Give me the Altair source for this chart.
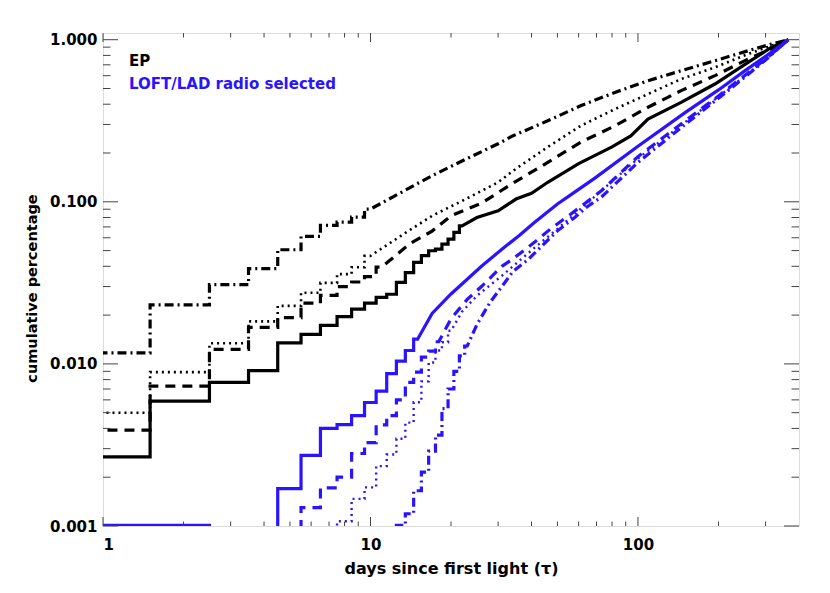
import altair as alt
import pandas as pd

# ---------------- data ----------------
# black curves (EP)
EP_SOLID_DAYS = list(range(1, 23)) + [25, 30, 35, 40, 46, 60, 80, 94, 109, 145, 194, 258, 315, 365]
EP_SOLID_VALS = [0.00267, 0.0059, 0.0077, 0.0091, 0.0135, 0.0152, 0.0173, 0.0196, 0.0218, 0.0237,
                 0.0257, 0.0269, 0.0318, 0.0366, 0.0423, 0.0465, 0.0499, 0.051, 0.0548, 0.0589,
                 0.0647, 0.0711, 0.080, 0.088, 0.104, 0.113, 0.132, 0.172, 0.218, 0.255, 0.324,
                 0.411, 0.533, 0.725, 0.897, 1.0]

EP_DASH_DAYS = list(range(1, 12)) + [14, 17, 20, 26, 34, 46, 61, 82, 109, 145, 194, 258, 315, 365]
EP_DASH_VALS = [0.0039, 0.0073, 0.0123, 0.0168, 0.0193, 0.0237, 0.0265, 0.030, 0.032, 0.0345,
                0.0395, 0.055, 0.066, 0.082, 0.098, 0.130, 0.175, 0.233, 0.294, 0.383, 0.485,
                0.600, 0.760, 0.877, 1.0]

EP_DOT_DAYS = list(range(1, 11)) + [13, 17, 23, 30, 35, 46, 61, 82, 109, 145, 194, 258, 315, 365]
EP_DOT_VALS = [0.0050, 0.0089, 0.0134, 0.0183, 0.0228, 0.0275, 0.0316, 0.0358, 0.0395, 0.0464,
               0.0617, 0.082, 0.105, 0.132, 0.160, 0.218, 0.294, 0.373, 0.462, 0.572, 0.675,
               0.816, 0.918, 1.0]

EP_DASHDOT_DAYS = list(range(1, 11)) + [13, 17, 23, 30, 34, 46, 61, 82, 109, 145, 194, 258, 315, 365]
EP_DASHDOT_VALS = [0.0117, 0.0231, 0.0308, 0.0387, 0.0506, 0.0612, 0.0715, 0.0750, 0.0805, 0.0902,
                   0.114, 0.145, 0.185, 0.228, 0.255, 0.316, 0.391, 0.473, 0.558, 0.644, 0.742,
                   0.855, 0.940, 1.0]

# blue curves (LOFT/LAD radio selected); values under 0.001 fall below the axis
LAD_SOLID_DAYS = list(range(1, 16)) + [17, 20, 23, 26, 31, 36, 41, 50, 55, 69, 100, 150, 200, 250, 300, 365]
LAD_SOLID_VALS = [0.00101, 0.00101, 0.0005, 0.0005, 0.0017, 0.00273, 0.0040, 0.00422, 0.0048, 0.00578,
                  0.0068, 0.0087, 0.0104, 0.0121, 0.0142, 0.0205, 0.027, 0.0333, 0.040, 0.051,
                  0.062, 0.0746, 0.097, 0.108, 0.140, 0.22, 0.355, 0.49, 0.64, 0.79, 1.0]

LAD_DASH_DAYS = list(range(5, 19)) + [20, 23, 26, 31, 34, 41, 47, 55, 65, 73, 100, 150, 200, 250, 300, 365]
LAD_DASH_VALS = [0.0005, 0.0013, 0.00172, 0.0020, 0.0028, 0.00327, 0.0042, 0.0048, 0.0060, 0.0077,
                 0.0089, 0.0110, 0.0120, 0.0137, 0.019, 0.025, 0.030, 0.040, 0.0443, 0.0562,
                 0.0678, 0.082, 0.101, 0.117, 0.19, 0.315, 0.45, 0.60, 0.76, 1.0]

LAD_DOT_DAYS = list(range(7, 21)) + [22, 25, 31, 41, 50, 70, 100, 150, 200, 250, 300, 365]
LAD_DOT_VALS = [0.0005, 0.00107, 0.00147, 0.00173, 0.00234, 0.00276, 0.00345, 0.00434, 0.0058,
                0.0078, 0.0102, 0.0121, 0.0136, 0.016, 0.021, 0.0263, 0.035, 0.052, 0.068, 0.11,
                0.185, 0.31, 0.445, 0.595, 0.755, 1.0]

LAD_DASHDOT_DAYS = list(range(12, 24)) + [25, 28, 31, 34, 39, 44, 50, 58, 65, 73, 100, 150, 200, 250, 300, 365]
LAD_DASHDOT_VALS = [0.0005, 0.00101, 0.00119, 0.00165, 0.00215, 0.0029, 0.00364, 0.0053, 0.0070,
                    0.0090, 0.0112, 0.0129, 0.0175, 0.024, 0.030, 0.037, 0.0443, 0.054, 0.0662,
                    0.080, 0.094, 0.107, 0.175, 0.30, 0.435, 0.585, 0.75, 1.0]

X_LABELS = [1, 10, 100]
X_MINOR = [2, 3, 4, 5, 6, 7, 8, 9, 20, 30, 40, 50, 60, 70, 80, 90, 200, 300]
Y_LABELS = [0.001, 0.01, 0.1, 1.0]
Y_MINOR = [0.002, 0.003, 0.004, 0.005, 0.006, 0.007, 0.008, 0.009,
           0.02, 0.03, 0.04, 0.05, 0.06, 0.07, 0.08, 0.09,
           0.2, 0.3, 0.4, 0.5, 0.6, 0.7, 0.8, 0.9]
LEGEND_LABELS = ["EP", "LOFT/LAD radio selected"]

X_TITLE = "days since first light (\u03c4)"
Y_TITLE = "cumulative percentage"

BLUE = "#2a14ff"
FONT = "DejaVu Sans"
W, H = 696, 493


def histogram_path(days, vals):
    """Histogram-style path: each daily value spans day-0.5..day+0.5."""
    rows = []
    n = len(days)
    for i, (d, v) in enumerate(zip(days, vals)):
        prev_c = i > 0 and days[i - 1] == d - 1
        next_c = i < n - 1 and days[i + 1] == d + 1
        left = d - 0.5 if (prev_c or i == 0) else d
        right = d + 0.5 if next_c else d
        rows.append({"x": left, "y": v})
        if right != left:
            rows.append({"x": right, "y": v})
    df = pd.DataFrame(rows)
    df["i"] = range(len(df))
    return df


xs = alt.Scale(type="log", domain=[1, 400], nice=False)
ys = alt.Scale(type="log", domain=[0.001, 1.1], nice=False)

x_axis = alt.Axis(values=X_LABELS, format="d", ticks=False, tickSize=0, domain=False, grid=False,
                  labelPadding=11, labelFontSize=15, labelFont=FONT, labelFontWeight="bold",
                  labelColor="black",
                  title=X_TITLE, titleFont=FONT, titleFontSize=16, titleFontWeight="bold",
                  titleColor="black", titleY=47, titleBaseline="alphabetic")
y_axis = alt.Axis(values=Y_LABELS, format=".3f", ticks=False, tickSize=0, domain=False, grid=False,
                  labelPadding=6, labelFontSize=15, labelFont=FONT, labelFontWeight="bold",
                  labelColor="black",
                  title=Y_TITLE, titleFont=FONT, titleFontSize=14.5, titleFontWeight="bold",
                  titleColor="black", titleX=-67, titleY=255, titleBaseline="alphabetic")

X = alt.X("x:Q", scale=xs, axis=x_axis)
Y = alt.Y("y:Q", scale=ys, axis=y_axis)

series = [
    (EP_SOLID_DAYS, EP_SOLID_VALS, "black", None, 3.2),
    (EP_DASH_DAYS, EP_DASH_VALS, "black", [10, 7], 3.2),
    (EP_DOT_DAYS, EP_DOT_VALS, "black", [2, 4], 2.6),
    (EP_DASHDOT_DAYS, EP_DASHDOT_VALS, "black", [9, 4, 2, 4], 3.2),
    (LAD_SOLID_DAYS, LAD_SOLID_VALS, BLUE, None, 3.2),
    (LAD_DASH_DAYS, LAD_DASH_VALS, BLUE, [10, 7], 3.2),
    (LAD_DOT_DAYS, LAD_DOT_VALS, BLUE, [2, 4], 2.4),
    (LAD_DASHDOT_DAYS, LAD_DASHDOT_VALS, BLUE, [9, 4, 2, 4], 3.2),
]

layers = []
for days, vals, col, dash, sw in series:
    kw = dict(color=col, strokeWidth=sw, clip=True, interpolate="linear")
    if dash:
        kw["strokeDash"] = dash
    layers.append(
        alt.Chart(histogram_path(days, vals)).mark_line(**kw).encode(x=X, y=Y, order="i:Q")
    )

tick_col = "#444"
xmaj = pd.DataFrame({"x": X_LABELS})
xmin = pd.DataFrame({"x": X_MINOR})
ymaj = pd.DataFrame({"y": Y_LABELS})
ymin = pd.DataFrame({"y": Y_MINOR})

for df, ln in ((xmaj, 9), (xmin, 4.5)):
    base = alt.Chart(df).mark_rule(color=tick_col, strokeWidth=1)
    layers.append(base.encode(x=X, y=alt.value(H), y2=alt.value(H - ln)))
    layers.append(base.encode(x=X, y=alt.value(0), y2=alt.value(ln)))
for df, ln in ((ymaj, 15), (ymin, 7.5)):
    base = alt.Chart(df).mark_rule(color=tick_col, strokeWidth=1)
    layers.append(base.encode(y=Y, x=alt.value(0), x2=alt.value(ln)))
    layers.append(base.encode(y=Y, x=alt.value(W), x2=alt.value(W - ln)))

leg1 = alt.Chart(pd.DataFrame({"t": LEGEND_LABELS[:1]})).mark_text(
    align="left", baseline="alphabetic", font=FONT, fontSize=15, fontWeight="bold", color="black"
).encode(x=alt.value(26), y=alt.value(33), text="t:N")
leg2 = alt.Chart(pd.DataFrame({"t": LEGEND_LABELS[1:]})).mark_text(
    align="left", baseline="alphabetic", font=FONT, fontSize=15, fontWeight="bold", color=BLUE
).encode(x=alt.value(26), y=alt.value(56), text="t:N")
layers += [leg1, leg2]

chart = alt.layer(*layers).properties(
    width=W, height=H,
    autosize=alt.AutoSizeParams(type="none"),
    padding={"left": 95, "top": 25, "right": 23, "bottom": 59},
).configure_view(stroke="#333", strokeWidth=1).configure(background="white")

chart.save("out.html", embed_options={"renderer": "svg", "actions": False})
